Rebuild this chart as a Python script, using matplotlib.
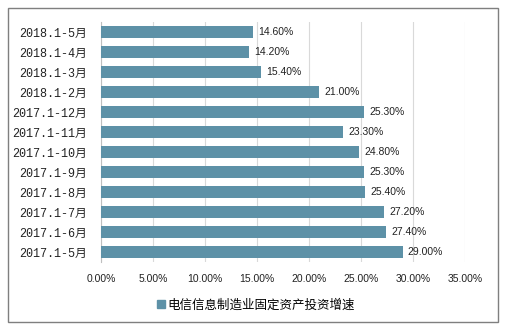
import matplotlib
matplotlib.use('Agg')
import matplotlib.pyplot as plt
from matplotlib.patches import Rectangle, Patch
from matplotlib.ticker import FuncFormatter, MultipleLocator

plt.rcParams['font.family'] = ['Noto Sans CJK SC', 'DejaVu Sans']

periods = ['2018.1-5月', '2018.1-4月', '2018.1-3月', '2018.1-2月',
           '2017.1-12月', '2017.1-11月', '2017.1-10月', '2017.1-9月',
           '2017.1-8月', '2017.1-7月', '2017.1-6月', '2017.1-5月']
growth = [14.60, 14.20, 15.40, 21.00, 25.30, 23.30, 24.80, 25.30,
          25.40, 27.20, 27.40, 29.00]
series_name = '电信信息制造业固定资产投资增速'

bar_color = '#5D91A7'
num_font = ['Liberation Sans', 'DejaVu Sans']

fig = plt.figure(figsize=(5.10, 3.35), dpi=100)
ax = fig.add_axes([0.198, 0.218, 0.714, 0.716])

ypos = list(range(len(periods)))
ax.barh(ypos, growth, height=0.62, color=bar_color, zorder=3)
for y, v in zip(ypos, growth):
    ax.text(v + 0.5, y, '%.2f%%' % v, va='center', ha='left',
            fontsize=7.5, color='#222222', family=num_font)

ax.set_yticks(ypos)
ax.set_yticklabels(periods, fontsize=8.5, color='#222222',
                   family=['Liberation Mono', 'Noto Sans CJK SC'])
ax.set_ylim(len(periods) - 0.5, -0.5)
ax.set_xlim(0, 35)
ax.xaxis.set_major_locator(MultipleLocator(5))
ax.xaxis.set_major_formatter(FuncFormatter(lambda x, p: '%.2f%%' % x))
for lbl in ax.get_xticklabels():
    lbl.set_family(num_font)
    lbl.set_fontsize(7.5)
    lbl.set_color('#222222')

ax.grid(axis='x', color='#D9D9D9', linewidth=0.8, zorder=0)
for s in ['top', 'right', 'bottom']:
    ax.spines[s].set_visible(False)
ax.spines['left'].set_color('#BFBFBF')
ax.tick_params(axis='y', length=0, pad=10)
ax.tick_params(axis='x', length=0, pad=9)

fig.legend(handles=[Patch(color=bar_color, label=series_name)],
           loc='center', bbox_to_anchor=(0.502, 0.09), frameon=False,
           fontsize=9, handlelength=0.6, handleheight=0.6, handletextpad=0.2)

fig.patches.append(Rectangle((0.0157, 0.0388), 0.9608, 0.9373,
                             transform=fig.transFigure, fill=False,
                             edgecolor='#7F7F7F', linewidth=1.0))

fig.savefig('out.png', dpi=100)
